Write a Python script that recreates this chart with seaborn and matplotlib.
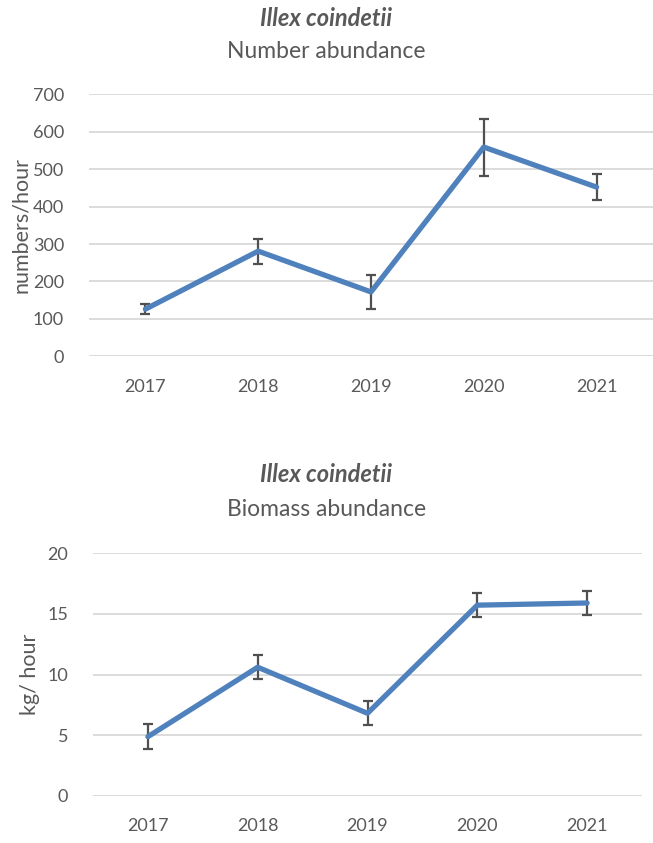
import matplotlib
matplotlib.use("Agg")
import matplotlib.pyplot as plt
import seaborn as sns
import pandas as pd

# Survey indices for Illex coindetii
years = ["2017", "2018", "2019", "2020", "2021"]
numbers_per_hour = [126, 281, 172, 559, 452]
numbers_err = [12.5, 33.5, 46.5, 76, 35.5]
kg_per_hour = [4.87, 10.6, 6.8, 15.72, 15.9]
kg_err = [1.02, 1.0, 1.0, 1.0, 1.0]

LINE = "#4F81BD"
GRID = "#D9D9D9"
TEXT = "#595959"
BAR = "#505050"

sns.set_theme(style="white")
plt.rcParams["font.family"] = ["Lato", "DejaVu Sans"]

fig = plt.figure(figsize=(6.53, 8.43), dpi=100)


def panel(rect, values, errors, ymax, ystep, ylabel, subtitle, title_y, sub_y, ylabel_x):
    ax = fig.add_axes(rect)
    df = pd.DataFrame({"pos": range(len(years)), "value": values})
    ax.errorbar(df["pos"], df["value"], yerr=errors, fmt="none",
                ecolor=BAR, elinewidth=1.6, capsize=3.4, capthick=1.6, zorder=3)
    sns.lineplot(data=df, x="pos", y="value", ax=ax, color=LINE,
                 linewidth=3.8, solid_capstyle="round", zorder=4)
    ax.set_xlim(-0.5, len(years) - 0.5)
    ax.set_ylim(0, ymax)
    ax.set_xticks(range(len(years)))
    ax.set_xticklabels(years)
    ax.set_yticks(range(0, ymax + 1, ystep))
    ax.yaxis.grid(True, color=GRID, linewidth=1.3)
    ax.set_axisbelow(True)
    for s in ax.spines.values():
        s.set_visible(False)
    ax.tick_params(axis="both", length=0, labelsize=13, colors=TEXT)
    ax.tick_params(axis="x", pad=16)
    ax.tick_params(axis="y", pad=18)
    ax.set_xlabel("")
    ax.set_ylabel("")
    fig.text(ylabel_x, rect[1] + rect[3] / 2, ylabel, rotation=90,
             ha="center", va="center", fontsize=15.5, color=TEXT)
    fig.text(0.5, title_y, "Illex coindetii", ha="center", va="center",
             fontsize=17, fontweight="bold", fontstyle="italic", color=TEXT)
    fig.text(0.5, sub_y, subtitle, ha="center", va="center",
             fontsize=16.5, color=TEXT)
    return ax


panel([89 / 653, 1 - 356.3 / 843, 564 / 653, 262 / 843],
      numbers_per_hour, numbers_err, 700, 100, "numbers/hour",
      "Number abundance", 1 - 19 / 843, 1 - 52 / 843, 21 / 653)

panel([93 / 653, 1 - 795.7 / 843, 549 / 653, 242.4 / 843],
      kg_per_hour, kg_err, 20, 5, "kg/ hour",
      "Biomass abundance", 1 - 475 / 843, 1 - 509 / 843, 30 / 653)

fig.savefig("out.png", dpi=100, facecolor="white")
